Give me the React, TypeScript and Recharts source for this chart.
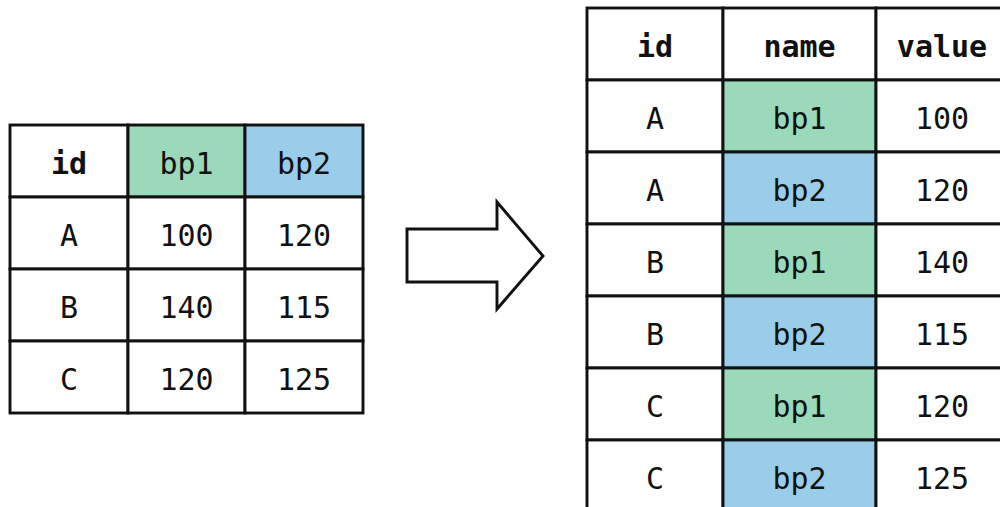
import React from "react";
import { ScatterChart, Scatter, XAxis, YAxis, Surface, Polygon } from "recharts";

// ---------- data ----------
const ids = ["A", "B", "C"];
const wideHeaders = ["id", "bp1", "bp2"];
const bp1Values = [100, 140, 120];
const bp2Values = [120, 115, 125];

const longHeaders = ["id", "name", "value"];
const longIds = ["A", "A", "B", "B", "C", "C"];
const longNames = ["bp1", "bp2", "bp1", "bp2", "bp1", "bp2"];
const longValues = [100, 120, 140, 115, 120, 125];

// ---------- style / layout ----------
const GREEN = "#9AD9BA";
const BLUE = "#9ACDEA";
const WHITE = "#FFFFFF";
const INK = "#111111";
const FONT = "'DejaVu Sans Mono', 'Liberation Mono', monospace";
const FONT_SIZE = 30;
const ROW_H = 72;
const LEFT_COL_W = [118, 117, 118];
const RIGHT_COL_W = [136, 153, 132];
const PAD = 4;
const STROKE = 2.9;

type Cell = { x: number; y: number; col: number; text: string; fill: string; bold: boolean };

const nameFill = (n: string) => (n === "bp1" ? GREEN : n === "bp2" ? BLUE : WHITE);

function colCenter(widths: number[], col: number) {
  let s = 0;
  for (let i = 0; i < col; i++) s += widths[i];
  return s + widths[col] / 2;
}

function buildWide(): Cell[] {
  const cells: Cell[] = [];
  wideHeaders.forEach((h, c) =>
    cells.push({ x: colCenter(LEFT_COL_W, c), y: 0, col: c, text: h, fill: nameFill(h), bold: h === "id" })
  );
  ids.forEach((id, r) => {
    const row = [id, String(bp1Values[r]), String(bp2Values[r])];
    row.forEach((t, c) =>
      cells.push({ x: colCenter(LEFT_COL_W, c), y: r + 1, col: c, text: t, fill: WHITE, bold: false })
    );
  });
  return cells;
}

function buildLong(): Cell[] {
  const cells: Cell[] = [];
  longHeaders.forEach((h, c) =>
    cells.push({ x: colCenter(RIGHT_COL_W, c), y: 0, col: c, text: h, fill: WHITE, bold: true })
  );
  longIds.forEach((id, r) => {
    const row = [id, longNames[r], String(longValues[r])];
    row.forEach((t, c) =>
      cells.push({
        x: colCenter(RIGHT_COL_W, c),
        y: r + 1,
        col: c,
        text: t,
        fill: c === 1 ? nameFill(t) : WHITE,
        bold: false,
      })
    );
  });
  return cells;
}

const wideCells = buildWide();
const longCells = buildLong();

const makeShape = (widths: number[]) => (props: any) => {
  const { cx, cy, payload } = props;
  const w = widths[payload.col];
  const h = ROW_H;
  return (
    <g>
      <rect x={cx - w / 2} y={cy - h / 2} width={w} height={h} fill={payload.fill} stroke={INK} strokeWidth={STROKE} />
      <text
        x={cx}
        y={cy + 13}
        textAnchor="middle"
        fontFamily={FONT}
        fontSize={FONT_SIZE}
        fontWeight={payload.bold ? 700 : 400}
        fill={INK}
      >
        {payload.text}
      </text>
    </g>
  );
};

function TableChart({ cells, widths, rows, left, top }: { cells: Cell[]; widths: number[]; rows: number; left: number; top: number }) {
  const total = widths.reduce((a, b) => a + b, 0);
  const w = total + 2 * PAD;
  const h = rows * ROW_H + 2 * PAD;
  return (
    <div style={{ position: "absolute", left: left - PAD, top: top - PAD, width: w, height: h }}>
      <ScatterChart width={w} height={h} margin={{ top: PAD, right: PAD, bottom: PAD, left: PAD }}>
        <XAxis type="number" dataKey="x" domain={[0, total]} hide />
        <YAxis type="number" dataKey="y" domain={[-0.5, rows - 0.5]} reversed hide />
        <Scatter data={cells} shape={makeShape(widths)} isAnimationActive={false} />
      </ScatterChart>
    </div>
  );
}

const arrowPoints = [
  { x: 407, y: 229 },
  { x: 497, y: 229 },
  { x: 497, y: 202 },
  { x: 543, y: 256 },
  { x: 497, y: 309 },
  { x: 497, y: 282 },
  { x: 407, y: 282 },
];

export default function App() {
  return (
    <div
      style={{
        position: "absolute",
        left: 0,
        top: 0,
        width: 1000,
        height: 507,
        overflow: "hidden",
        background: "#fff",
      }}
    >
      <div style={{ position: "absolute", left: 0, top: 0 }}>
        <Surface width={1000} height={507}>
          <Polygon points={arrowPoints} fill="#fff" stroke={INK} strokeWidth={STROKE} strokeLinejoin="miter" />
        </Surface>
      </div>
      <TableChart cells={wideCells} widths={LEFT_COL_W} rows={4} left={10} top={125} />
      <TableChart cells={longCells} widths={RIGHT_COL_W} rows={7} left={587} top={8} />
    </div>
  );
}
